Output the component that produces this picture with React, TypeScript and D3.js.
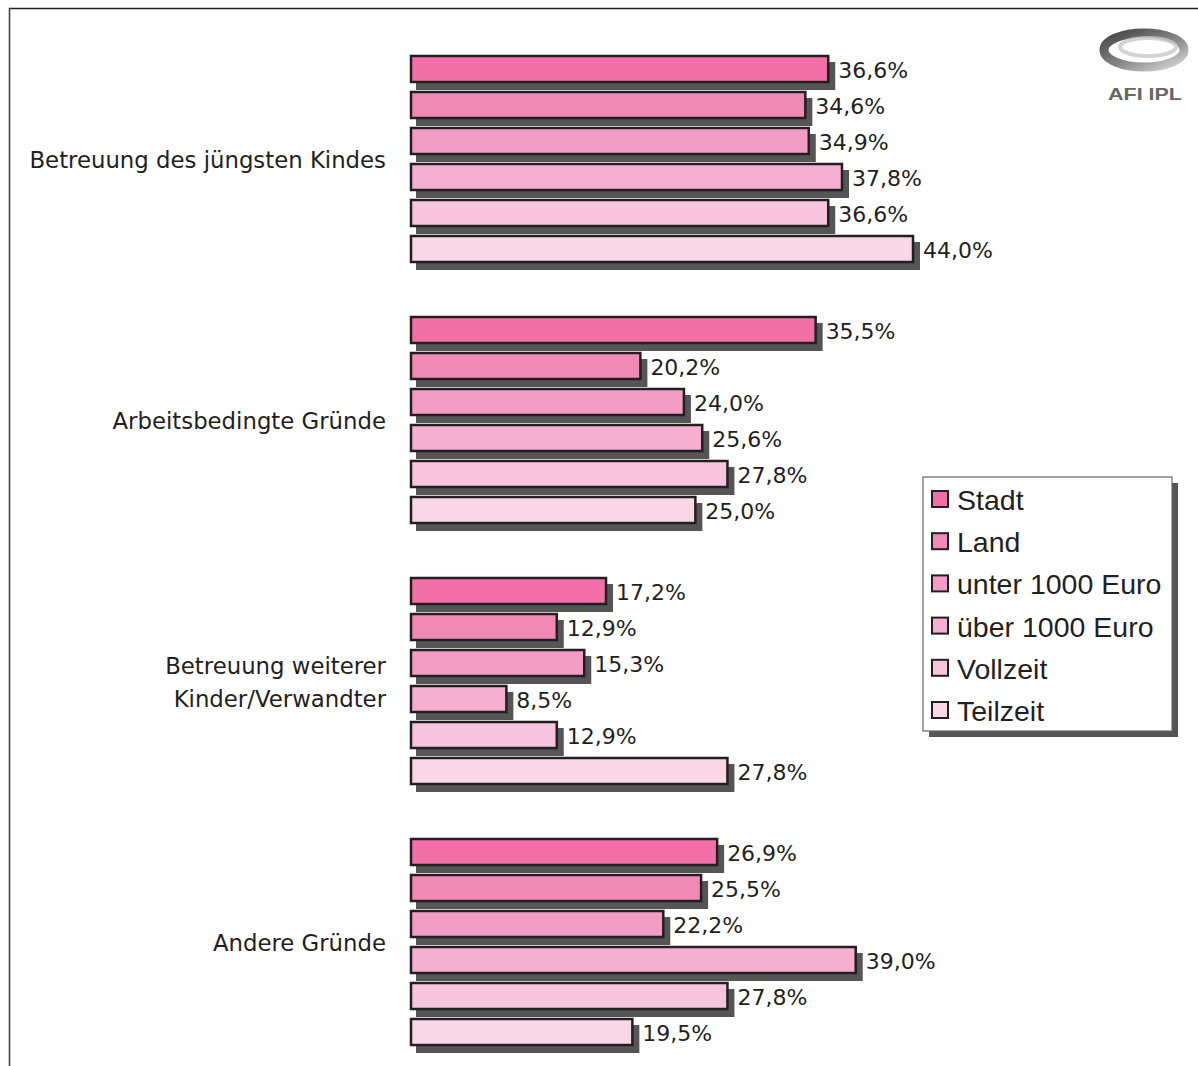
import React from "react";
import * as d3 from "d3";

const categories = [
  "Betreuung des jüngsten Kindes",
  "Arbeitsbedingte Gründe",
  "Betreuung weiterer Kinder/Verwandter",
  "Andere Gründe",
];
const categoryLines = [
  ["Betreuung des jüngsten Kindes"],
  ["Arbeitsbedingte Gründe"],
  ["Betreuung weiterer", "Kinder/Verwandter"],
  ["Andere Gründe"],
];
const series = ["Stadt", "Land", "unter 1000 Euro", "über 1000 Euro", "Vollzeit", "Teilzeit"];
const colors = ["#f26fa8", "#f189b5", "#f39cc5", "#f5afd0", "#f7c4dd", "#f9d7e7"];

const stadt = [36.6, 35.5, 17.2, 26.9];
const land = [34.6, 20.2, 12.9, 25.5];
const unter1000 = [34.9, 24.0, 15.3, 22.2];
const ueber1000 = [37.8, 25.6, 8.5, 39.0];
const vollzeit = [36.6, 27.8, 12.9, 27.8];
const teilzeit = [44.0, 25.0, 27.8, 19.5];
const valuesBySeries = [stadt, land, unter1000, ueber1000, vollzeit, teilzeit];

const fmt = (v: number) => v.toFixed(1).replace(".", ",") + "%";

export default function App() {
  const W = 1198, H = 1066;
  const x = d3.scaleLinear().domain([0, 44]).range([410, 914]);
  const yG = d3.scaleBand<string>().domain(categories).range([51, 1050]).paddingInner(45 / 261).paddingOuter(0);
  const yS = d3.scaleBand<string>().domain(series).range([0, yG.bandwidth()]).paddingInner(8 / 36).paddingOuter(4 / 36);
  const ink = "#231f20";
  const catFont = "'DejaVu Sans', Verdana, sans-serif";
  const legFont = "'Liberation Sans', Arial, sans-serif";

  const legX = 923, legY = 477, legW = 249, legH = 254;
  const legStep = 42.2;

  return (
    <svg width={W} height={H} style={{ position: "absolute", left: 0, top: 0, background: "#fff" }}>
      <defs>
        <linearGradient id="logoG" x1="0" x2="1" y1="0" y2="1">
          <stop offset="0" stopColor="#444" />
          <stop offset="0.55" stopColor="#888" />
          <stop offset="1" stopColor="#d8d8d8" />
        </linearGradient>
      </defs>
      <rect x={0} y={0} width={W} height={H} fill="#fff" />
      {/* frame */}
      <line x1={9} y1={8.5} x2={W} y2={8.5} stroke="#222" strokeWidth={1.6} />
      <line x1={9.5} y1={8} x2={9.5} y2={H} stroke="#444" strokeWidth={1.6} />

      {/* logo */}
      <g>
        <ellipse cx={1144} cy={50} rx={40} ry={17} fill="none" stroke="url(#logoG)" strokeWidth={9} />
        <ellipse cx={1148} cy={47} rx={28} ry={9} fill="none" stroke="#c8c8c8" strokeWidth={4} opacity={0.8} />
        <text x={1145} y={100} textAnchor="middle" fontFamily={legFont} fontWeight="bold" fontSize={17} fill="#666" textLength={74} lengthAdjust="spacingAndGlyphs">AFI IPL</text>
      </g>

      {/* bars */}
      {categories.map((c, gi) => (
        <g key={c} transform={`translate(0,${yG(c)})`}>
          {series.map((s, si) => {
            const v = valuesBySeries[si][gi];
            const y0 = yS(s)!;
            const h = yS.bandwidth();
            const x0 = x(0), x1 = x(v);
            return (
              <g key={s}>
                <rect x={x0 + 6} y={y0 + 7} width={x1 - x0} height={h} fill="#555" />
                <rect x={x0 + 1} y={y0 + 1} width={x1 - x0 - 2} height={h - 2} fill={colors[si]} stroke={ink} strokeWidth={2.5} />
                <text x={x1 + 9} y={y0 + h / 2 + 1} dominantBaseline="central" fontFamily={catFont} fontSize={22} fill={ink}>{fmt(v)}</text>
              </g>
            );
          })}
          {categoryLines[gi].map((ln, li) => {
            const n = categoryLines[gi].length;
            const cy = yG.bandwidth() / 2 + (li - (n - 1) / 2) * 33 + 1;
            return (
              <text key={li} x={386} y={cy} textAnchor="end" dominantBaseline="central" fontFamily={catFont} fontSize={22.8} fill={ink}>{ln}</text>
            );
          })}
        </g>
      ))}

      {/* legend */}
      <rect x={legX + 6} y={legY + 6} width={legW} height={legH} fill="#555" />
      <rect x={legX} y={legY} width={legW} height={legH} fill="#fff" stroke="#666" strokeWidth={1.2} />
      {series.map((s, i) => {
        const cy = legY + 22 + i * legStep;
        return (
          <g key={s}>
            <rect x={932} y={cy - 8} width={16} height={16} fill={colors[i]} stroke={ink} strokeWidth={2} />
            <text x={957} y={cy + 1} dominantBaseline="central" fontFamily={legFont} fontSize={28.5} fill={ink}>{s}</text>
          </g>
        );
      })}
    </svg>
  );
}
